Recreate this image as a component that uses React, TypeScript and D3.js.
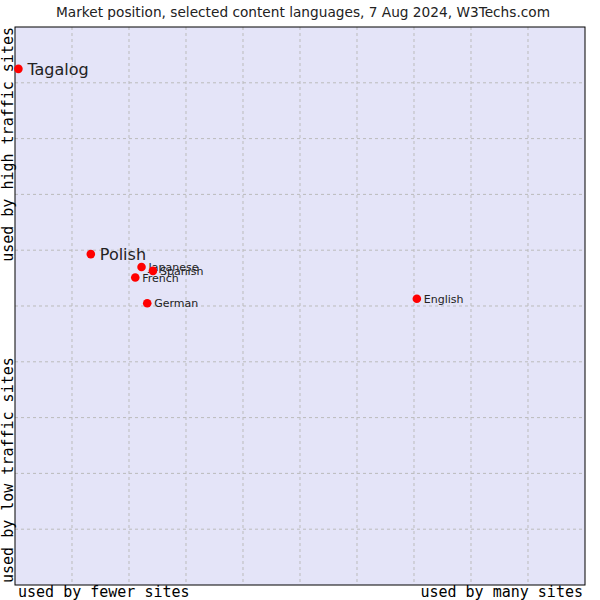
import React from "react";
import * as d3 from "d3";

const languages = ["Tagalog", "Polish", "Japanese", "Spanish", "French", "German", "English"];
const siteShare = [0.6, 13.3, 22.2, 24.2, 21.1, 23.2, 70.5];
const trafficScore = [92.5, 59.3, 57.0, 56.3, 55.1, 50.5, 51.3];
const highlighted = ["Tagalog", "Polish"];
const gridTicks = [10, 20, 30, 40, 50, 60, 70, 80, 90];

const title = "Market position, selected content languages, 7 Aug 2024, W3Techs.com";

export default function App() {
  const W = 600, H = 600;
  const left = 15, right = 585, top = 27, bottom = 585;
  const x = d3.scaleLinear().domain([0, 100]).range([left, right]);
  const y = d3.scaleLinear().domain([0, 100]).range([bottom, top]);
  const data = languages.map((name, i) => ({ name, sx: siteShare[i], ty: trafficScore[i] }));
  return (
    <svg width={W} height={H} style={{ position: "absolute", left: 0, top: 0, background: "#fff" }}>
      <text x={303} y={17} textAnchor="middle" fontFamily="DejaVu Sans" fontSize={13.7} fill="#222">{title}</text>
      <rect x={left} y={top} width={right - left} height={bottom - top} fill="#e4e4f8" />
      {gridTicks.map((t) => (
        <line key={"v" + t} x1={x(t)} x2={x(t)} y1={top} y2={bottom} stroke="#bbb" strokeDasharray="3,3" />
      ))}
      {gridTicks.map((t) => (
        <line key={"h" + t} x1={left} x2={right} y1={y(t)} y2={y(t)} stroke="#bbb" strokeDasharray="3,3" />
      ))}
      <rect x={left} y={top} width={right - left} height={bottom - top} fill="none" stroke="#000" strokeWidth={1} />
      {data.map((d) => {
        const big = highlighted.includes(d.name);
        return (
          <g key={d.name}>
            <circle cx={x(d.sx)} cy={y(d.ty)} r={4.3} fill="#f00" />
            <text
              x={x(d.sx) + (big ? 9 : 7)}
              y={y(d.ty) + (big ? 6 : 4)}
              fontFamily="DejaVu Sans"
              fontSize={big ? 16 : 11}
              fill="#222"
            >
              {d.name}
            </text>
          </g>
        );
      })}
      <text x={18} y={597} fontFamily="DejaVu Sans Mono" fontSize={15} fill="#000">used by fewer sites</text>
      <text x={583} y={597} textAnchor="end" fontFamily="DejaVu Sans Mono" fontSize={15} fill="#000">used by many sites</text>
      <text transform={`translate(13,${top}) rotate(-90)`} textAnchor="end" fontFamily="DejaVu Sans Mono" fontSize={15} fill="#000">used by high traffic sites</text>
      <text transform={`translate(13,${bottom - 2}) rotate(-90)`} textAnchor="start" fontFamily="DejaVu Sans Mono" fontSize={15} fill="#000">used by low traffic sites</text>
    </svg>
  );
}
